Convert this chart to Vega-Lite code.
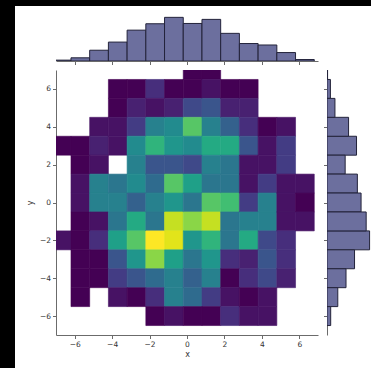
{
  "$schema": "https://vega.github.io/schema/vega-lite/v6.json",
  "padding": 0,
  "background": "white",
  "config": {
    "font": "DejaVu Sans",
    "view": {"stroke": null},
    "axis": {
      "grid": false,
      "domainColor": "#6b6b6b",
      "tickColor": "#6b6b6b",
      "domainWidth": 1,
      "tickWidth": 1,
      "tickSize": 3.5,
      "labelFont": "DejaVu Sans",
      "labelFontSize": 7.5,
      "labelColor": "#333333",
      "labelPadding": 2,
      "titleFont": "DejaVu Sans",
      "titleFontSize": 8,
      "titleFontWeight": "normal",
      "titleColor": "#333333"
    }
  },
  "datasets": {
    "cells": [
      {"x0": -7.2, "x1": -6.2, "y0": 2.5, "y1": 3.5, "count": 1},
      {"x0": -7.2, "x1": -6.2, "y0": -2.5, "y1": -1.5, "count": 2},

      {"x0": -6.2, "x1": -5.2, "y0": 2.5, "y1": 3.5, "count": 1},
      {"x0": -6.2, "x1": -5.2, "y0": 1.5, "y1": 2.5, "count": 1},
      {"x0": -6.2, "x1": -5.2, "y0": 0.5, "y1": 1.5, "count": 2},
      {"x0": -6.2, "x1": -5.2, "y0": -0.5, "y1": 0.5, "count": 2},
      {"x0": -6.2, "x1": -5.2, "y0": -1.5, "y1": -0.5, "count": 1},
      {"x0": -6.2, "x1": -5.2, "y0": -2.5, "y1": -1.5, "count": 1},
      {"x0": -6.2, "x1": -5.2, "y0": -3.5, "y1": -2.5, "count": 1},
      {"x0": -6.2, "x1": -5.2, "y0": -4.5, "y1": -3.5, "count": 1},
      {"x0": -6.2, "x1": -5.2, "y0": -5.5, "y1": -4.5, "count": 1},

      {"x0": -5.2, "x1": -4.2, "y0": 3.5, "y1": 4.5, "count": 2},
      {"x0": -5.2, "x1": -4.2, "y0": 2.5, "y1": 3.5, "count": 3},
      {"x0": -5.2, "x1": -4.2, "y0": 1.5, "y1": 2.5, "count": 2},
      {"x0": -5.2, "x1": -4.2, "y0": 0.5, "y1": 1.5, "count": 11},
      {"x0": -5.2, "x1": -4.2, "y0": -0.5, "y1": 0.5, "count": 11},
      {"x0": -5.2, "x1": -4.2, "y0": -1.5, "y1": -0.5, "count": 2},
      {"x0": -5.2, "x1": -4.2, "y0": -2.5, "y1": -1.5, "count": 4},
      {"x0": -5.2, "x1": -4.2, "y0": -3.5, "y1": -2.5, "count": 1},
      {"x0": -5.2, "x1": -4.2, "y0": -4.5, "y1": -3.5, "count": 1},

      {"x0": -4.2, "x1": -3.2, "y0": 5.5, "y1": 6.5, "count": 1},
      {"x0": -4.2, "x1": -3.2, "y0": 4.5, "y1": 5.5, "count": 1},
      {"x0": -4.2, "x1": -3.2, "y0": 3.5, "y1": 4.5, "count": 2},
      {"x0": -4.2, "x1": -3.2, "y0": 2.5, "y1": 3.5, "count": 2},
      {"x0": -4.2, "x1": -3.2, "y0": 0.5, "y1": 1.5, "count": 10},
      {"x0": -4.2, "x1": -3.2, "y0": -0.5, "y1": 0.5, "count": 11},
      {"x0": -4.2, "x1": -3.2, "y0": -1.5, "y1": -0.5, "count": 10},
      {"x0": -4.2, "x1": -3.2, "y0": -2.5, "y1": -1.5, "count": 14},
      {"x0": -4.2, "x1": -3.2, "y0": -3.5, "y1": -2.5, "count": 7},
      {"x0": -4.2, "x1": -3.2, "y0": -4.5, "y1": -3.5, "count": 5},
      {"x0": -4.2, "x1": -3.2, "y0": -5.5, "y1": -4.5, "count": 2},

      {"x0": -3.2, "x1": -2.2, "y0": 5.5, "y1": 6.5, "count": 1},
      {"x0": -3.2, "x1": -2.2, "y0": 4.5, "y1": 5.5, "count": 3},
      {"x0": -3.2, "x1": -2.2, "y0": 3.5, "y1": 4.5, "count": 5},
      {"x0": -3.2, "x1": -2.2, "y0": 2.5, "y1": 3.5, "count": 12},
      {"x0": -3.2, "x1": -2.2, "y0": 1.5, "y1": 2.5, "count": 11},
      {"x0": -3.2, "x1": -2.2, "y0": 0.5, "y1": 1.5, "count": 12},
      {"x0": -3.2, "x1": -2.2, "y0": -0.5, "y1": 0.5, "count": 8},
      {"x0": -3.2, "x1": -2.2, "y0": -1.5, "y1": -0.5, "count": 15},
      {"x0": -3.2, "x1": -2.2, "y0": -2.5, "y1": -1.5, "count": 18},
      {"x0": -3.2, "x1": -2.2, "y0": -3.5, "y1": -2.5, "count": 13},
      {"x0": -3.2, "x1": -2.2, "y0": -4.5, "y1": -3.5, "count": 7},
      {"x0": -3.2, "x1": -2.2, "y0": -5.5, "y1": -4.5, "count": 1},

      {"x0": -2.2, "x1": -1.2, "y0": 5.5, "y1": 6.5, "count": 4},
      {"x0": -2.2, "x1": -1.2, "y0": 4.5, "y1": 5.5, "count": 2},
      {"x0": -2.2, "x1": -1.2, "y0": 3.5, "y1": 4.5, "count": 11},
      {"x0": -2.2, "x1": -1.2, "y0": 2.5, "y1": 3.5, "count": 16},
      {"x0": -2.2, "x1": -1.2, "y0": 1.5, "y1": 2.5, "count": 7},
      {"x0": -2.2, "x1": -1.2, "y0": 0.5, "y1": 1.5, "count": 9},
      {"x0": -2.2, "x1": -1.2, "y0": -0.5, "y1": 0.5, "count": 11},
      {"x0": -2.2, "x1": -1.2, "y0": -1.5, "y1": -0.5, "count": 10},
      {"x0": -2.2, "x1": -1.2, "y0": -2.5, "y1": -1.5, "count": 24},
      {"x0": -2.2, "x1": -1.2, "y0": -3.5, "y1": -2.5, "count": 20},
      {"x0": -2.2, "x1": -1.2, "y0": -4.5, "y1": -3.5, "count": 9},
      {"x0": -2.2, "x1": -1.2, "y0": -5.5, "y1": -4.5, "count": 4},
      {"x0": -2.2, "x1": -1.2, "y0": -6.5, "y1": -5.5, "count": 1},

      {"x0": -1.2, "x1": -0.2, "y0": 5.5, "y1": 6.5, "count": 1},
      {"x0": -1.2, "x1": -0.2, "y0": 4.5, "y1": 5.5, "count": 3},
      {"x0": -1.2, "x1": -0.2, "y0": 3.5, "y1": 4.5, "count": 12},
      {"x0": -1.2, "x1": -0.2, "y0": 2.5, "y1": 3.5, "count": 13},
      {"x0": -1.2, "x1": -0.2, "y0": 1.5, "y1": 2.5, "count": 7},
      {"x0": -1.2, "x1": -0.2, "y0": 0.5, "y1": 1.5, "count": 18},
      {"x0": -1.2, "x1": -0.2, "y0": -0.5, "y1": 0.5, "count": 13},
      {"x0": -1.2, "x1": -0.2, "y0": -1.5, "y1": -0.5, "count": 22},
      {"x0": -1.2, "x1": -0.2, "y0": -2.5, "y1": -1.5, "count": 23},
      {"x0": -1.2, "x1": -0.2, "y0": -3.5, "y1": -2.5, "count": 14},
      {"x0": -1.2, "x1": -0.2, "y0": -4.5, "y1": -3.5, "count": 11},
      {"x0": -1.2, "x1": -0.2, "y0": -5.5, "y1": -4.5, "count": 11},
      {"x0": -1.2, "x1": -0.2, "y0": -6.5, "y1": -5.5, "count": 2},

      {"x0": -0.2, "x1": 0.8, "y0": 6.5, "y1": 7.5, "count": 1},
      {"x0": -0.2, "x1": 0.8, "y0": 5.5, "y1": 6.5, "count": 1},
      {"x0": -0.2, "x1": 0.8, "y0": 4.5, "y1": 5.5, "count": 6},
      {"x0": -0.2, "x1": 0.8, "y0": 3.5, "y1": 4.5, "count": 18},
      {"x0": -0.2, "x1": 0.8, "y0": 2.5, "y1": 3.5, "count": 12},
      {"x0": -0.2, "x1": 0.8, "y0": 1.5, "y1": 2.5, "count": 6},
      {"x0": -0.2, "x1": 0.8, "y0": 0.5, "y1": 1.5, "count": 14},
      {"x0": -0.2, "x1": 0.8, "y0": -0.5, "y1": 0.5, "count": 10},
      {"x0": -0.2, "x1": 0.8, "y0": -1.5, "y1": -0.5, "count": 20},
      {"x0": -0.2, "x1": 0.8, "y0": -2.5, "y1": -1.5, "count": 13},
      {"x0": -0.2, "x1": 0.8, "y0": -3.5, "y1": -2.5, "count": 10},
      {"x0": -0.2, "x1": 0.8, "y0": -4.5, "y1": -3.5, "count": 8},
      {"x0": -0.2, "x1": 0.8, "y0": -5.5, "y1": -4.5, "count": 9},
      {"x0": -0.2, "x1": 0.8, "y0": -6.5, "y1": -5.5, "count": 1},

      {"x0": 0.8, "x1": 1.8, "y0": 6.5, "y1": 7.5, "count": 1},
      {"x0": 0.8, "x1": 1.8, "y0": 5.5, "y1": 6.5, "count": 2},
      {"x0": 0.8, "x1": 1.8, "y0": 4.5, "y1": 5.5, "count": 7},
      {"x0": 0.8, "x1": 1.8, "y0": 3.5, "y1": 4.5, "count": 11},
      {"x0": 0.8, "x1": 1.8, "y0": 2.5, "y1": 3.5, "count": 15},
      {"x0": 0.8, "x1": 1.8, "y0": 1.5, "y1": 2.5, "count": 11},
      {"x0": 0.8, "x1": 1.8, "y0": 0.5, "y1": 1.5, "count": 10},
      {"x0": 0.8, "x1": 1.8, "y0": -0.5, "y1": 0.5, "count": 18},
      {"x0": 0.8, "x1": 1.8, "y0": -1.5, "y1": -0.5, "count": 22},
      {"x0": 0.8, "x1": 1.8, "y0": -2.5, "y1": -1.5, "count": 16},
      {"x0": 0.8, "x1": 1.8, "y0": -3.5, "y1": -2.5, "count": 13},
      {"x0": 0.8, "x1": 1.8, "y0": -4.5, "y1": -3.5, "count": 11},
      {"x0": 0.8, "x1": 1.8, "y0": -5.5, "y1": -4.5, "count": 5},
      {"x0": 0.8, "x1": 1.8, "y0": -6.5, "y1": -5.5, "count": 1},

      {"x0": 1.8, "x1": 2.8, "y0": 5.5, "y1": 6.5, "count": 1},
      {"x0": 1.8, "x1": 2.8, "y0": 4.5, "y1": 5.5, "count": 3},
      {"x0": 1.8, "x1": 2.8, "y0": 3.5, "y1": 4.5, "count": 8},
      {"x0": 1.8, "x1": 2.8, "y0": 2.5, "y1": 3.5, "count": 15},
      {"x0": 1.8, "x1": 2.8, "y0": 1.5, "y1": 2.5, "count": 10},
      {"x0": 1.8, "x1": 2.8, "y0": 0.5, "y1": 1.5, "count": 10},
      {"x0": 1.8, "x1": 2.8, "y0": -0.5, "y1": 0.5, "count": 17},
      {"x0": 1.8, "x1": 2.8, "y0": -1.5, "y1": -0.5, "count": 10},
      {"x0": 1.8, "x1": 2.8, "y0": -2.5, "y1": -1.5, "count": 10},
      {"x0": 1.8, "x1": 2.8, "y0": -3.5, "y1": -2.5, "count": 4},
      {"x0": 1.8, "x1": 2.8, "y0": -4.5, "y1": -3.5, "count": 1},
      {"x0": 1.8, "x1": 2.8, "y0": -5.5, "y1": -4.5, "count": 2},
      {"x0": 1.8, "x1": 2.8, "y0": -6.5, "y1": -5.5, "count": 4},

      {"x0": 2.8, "x1": 3.8, "y0": 5.5, "y1": 6.5, "count": 1},
      {"x0": 2.8, "x1": 3.8, "y0": 4.5, "y1": 5.5, "count": 3},
      {"x0": 2.8, "x1": 3.8, "y0": 3.5, "y1": 4.5, "count": 4},
      {"x0": 2.8, "x1": 3.8, "y0": 2.5, "y1": 3.5, "count": 7},
      {"x0": 2.8, "x1": 3.8, "y0": 1.5, "y1": 2.5, "count": 2},
      {"x0": 2.8, "x1": 3.8, "y0": 0.5, "y1": 1.5, "count": 2},
      {"x0": 2.8, "x1": 3.8, "y0": -0.5, "y1": 0.5, "count": 5},
      {"x0": 2.8, "x1": 3.8, "y0": -1.5, "y1": -0.5, "count": 11},
      {"x0": 2.8, "x1": 3.8, "y0": -2.5, "y1": -1.5, "count": 15},
      {"x0": 2.8, "x1": 3.8, "y0": -3.5, "y1": -2.5, "count": 3},
      {"x0": 2.8, "x1": 3.8, "y0": -4.5, "y1": -3.5, "count": 4},
      {"x0": 2.8, "x1": 3.8, "y0": -5.5, "y1": -4.5, "count": 1},
      {"x0": 2.8, "x1": 3.8, "y0": -6.5, "y1": -5.5, "count": 2},

      {"x0": 3.8, "x1": 4.8, "y0": 3.5, "y1": 4.5, "count": 1},
      {"x0": 3.8, "x1": 4.8, "y0": 2.5, "y1": 3.5, "count": 2},
      {"x0": 3.8, "x1": 4.8, "y0": 1.5, "y1": 2.5, "count": 2},
      {"x0": 3.8, "x1": 4.8, "y0": 0.5, "y1": 1.5, "count": 5},
      {"x0": 3.8, "x1": 4.8, "y0": -0.5, "y1": 0.5, "count": 11},
      {"x0": 3.8, "x1": 4.8, "y0": -1.5, "y1": -0.5, "count": 11},
      {"x0": 3.8, "x1": 4.8, "y0": -2.5, "y1": -1.5, "count": 6},
      {"x0": 3.8, "x1": 4.8, "y0": -3.5, "y1": -2.5, "count": 7},
      {"x0": 3.8, "x1": 4.8, "y0": -4.5, "y1": -3.5, "count": 6},
      {"x0": 3.8, "x1": 4.8, "y0": -5.5, "y1": -4.5, "count": 2},
      {"x0": 3.8, "x1": 4.8, "y0": -6.5, "y1": -5.5, "count": 2},

      {"x0": 4.8, "x1": 5.8, "y0": 3.5, "y1": 4.5, "count": 2},
      {"x0": 4.8, "x1": 5.8, "y0": 2.5, "y1": 3.5, "count": 5},
      {"x0": 4.8, "x1": 5.8, "y0": 1.5, "y1": 2.5, "count": 5},
      {"x0": 4.8, "x1": 5.8, "y0": 0.5, "y1": 1.5, "count": 2},
      {"x0": 4.8, "x1": 5.8, "y0": -0.5, "y1": 0.5, "count": 2},
      {"x0": 4.8, "x1": 5.8, "y0": -1.5, "y1": -0.5, "count": 2},
      {"x0": 4.8, "x1": 5.8, "y0": -2.5, "y1": -1.5, "count": 4},
      {"x0": 4.8, "x1": 5.8, "y0": -3.5, "y1": -2.5, "count": 4},
      {"x0": 4.8, "x1": 5.8, "y0": -4.5, "y1": -3.5, "count": 3},

      {"x0": 5.8, "x1": 6.8, "y0": 0.5, "y1": 1.5, "count": 2},
      {"x0": 5.8, "x1": 6.8, "y0": -0.5, "y1": 0.5, "count": 1},
      {"x0": 5.8, "x1": 6.8, "y0": -1.5, "y1": -0.5, "count": 2}
    ]
  },
  "spacing": 0,
  "vconcat": [
    {
      "width": 371,
      "height": 6,
      "data": {"values": []},
      "mark": "rect",
      "view": {"fill": "black", "stroke": null}
    },
    {
      "spacing": 11,
      "hconcat": [
        {
          "width": 15,
          "height": 362,
          "data": {"values": []},
          "mark": "rect",
          "view": {"fill": "black", "stroke": null}
        },
        {
          "columns": 2,
          "bounds": "flush",
          "spacing": {"row": 9, "column": 9},
          "concat": [
            {
              "width": 262,
              "height": 55,
              "data": {"name": "cells"},
              "transform": [
                {"aggregate": [{"op": "sum", "field": "count", "as": "total"}], "groupby": ["x0", "x1"]}
              ],
              "mark": {"type": "rect", "fill": "#6c6f9e", "stroke": "#23233a", "strokeWidth": 1, "clip": true},
              "encoding": {
                "x": {
                  "field": "x0", "type": "quantitative",
                  "scale": {"domain": [-7, 7], "nice": false, "zero": false},
                  "axis": {"values": [-6, -4, -2, 0, 2, 4, 6], "labels": false, "title": null}
                },
                "x2": {"field": "x1"},
                "y": {"field": "total", "type": "quantitative", "scale": {"domain": [0, 189]}, "axis": null},
                "y2": {"datum": 0}
              }
            },
            {
              "width": 44,
              "height": 55,
              "data": {"values": []},
              "mark": "rect"
            },
            {
              "width": 262,
              "height": 265,
              "data": {"name": "cells"},
              "mark": {"type": "rect", "clip": true, "strokeWidth": 0.6},
              "encoding": {
                "x": {
                  "field": "x0", "type": "quantitative", "title": "x",
                  "scale": {"domain": [-7, 7], "nice": false, "zero": false},
                  "axis": {"values": [-6, -4, -2, 0, 2, 4, 6], "titlePadding": 2}
                },
                "x2": {"field": "x1"},
                "y": {
                  "field": "y0", "type": "quantitative", "title": "y",
                  "scale": {"domain": [-7, 7], "nice": false, "zero": false},
                  "axis": {"values": [-6, -4, -2, 0, 2, 4, 6], "titlePadding": 5}
                },
                "y2": {"field": "y1"},
                "color": {
                  "field": "count", "type": "quantitative",
                  "scale": {"scheme": "viridis", "domain": [1, 24]},
                  "legend": null
                },
                "stroke": {
                  "field": "count", "type": "quantitative",
                  "scale": {"scheme": "viridis", "domain": [1, 24]},
                  "legend": null
                }
              }
            },
            {
              "width": 44,
              "height": 265,
              "data": {"name": "cells"},
              "transform": [
                {"aggregate": [{"op": "sum", "field": "count", "as": "total"}], "groupby": ["y0", "y1"]}
              ],
              "mark": {"type": "rect", "fill": "#6c6f9e", "stroke": "#23233a", "strokeWidth": 1, "clip": true},
              "encoding": {
                "y": {
                  "field": "y0", "type": "quantitative",
                  "scale": {"domain": [-7, 7], "nice": false, "zero": false},
                  "axis": {"values": [-6, -4, -2, 0, 2, 4, 6], "labels": false, "title": null}
                },
                "y2": {"field": "y1"},
                "x": {"field": "total", "type": "quantitative", "scale": {"domain": [0, 155]}, "axis": null},
                "x2": {"datum": 0}
              }
            }
          ]
        }
      ]
    }
  ]
}
